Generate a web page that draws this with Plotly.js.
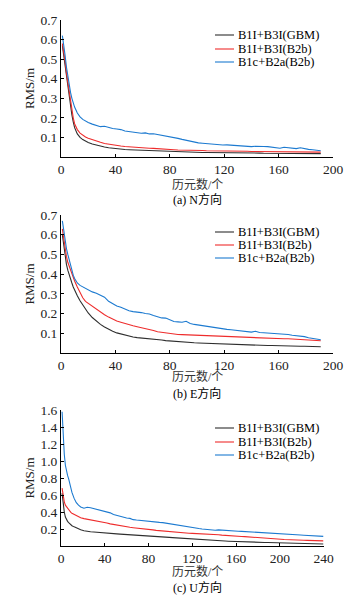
<!DOCTYPE html>
<html>
<head>
<meta charset="utf-8">
<script src="https://cdn.plot.ly/plotly-3.0.1.min.js"></script>
<style>html,body{margin:0;padding:0;background:#fff;}#chart{width:360px;height:598px;}</style>
</head>
<body>
<div id="chart"></div>
<script>
// ---------- data ----------
const seriesNames = ["B1I+B3I(GBM)", "B1I+B3I(B2b)", "B1c+B2a(B2b)"];
const seriesColors = ["#2e2e2e", "#ee2c2c", "#1c7ad0"];
const panelCaptions = ["(a) N方向", "(b) E方向", "(c) U方向"];
const xAxisTitle = "历元数/个";
const yAxisTitle = "RMS/m";

const xTicksNE = [0, 40, 80, 120, 160, 200];
const xTicksU = [0, 40, 80, 120, 160, 200, 240];
const yTicksNE = [0.1, 0.2, 0.3, 0.4, 0.5, 0.6, 0.7];
const yTicksU = [0.2, 0.4, 0.6, 0.8, 1.0, 1.2, 1.4, 1.6];

const epochsNE = [1,2,3,4,5,6,7,8,9,10,
  12,14,16,18,
  20,23,26,29,32,35,38,41,44,47,
  50,53,56,59,62,65,68,71,74,77,
  80,83,86,89,92,95,98,101,104,107,
  110,113,116,119,122,125,128,131,134,137,
  140,143,146,149,152,155,158,161,164,167,
  170,173,176,179,182,185,188,191];

const nGBM = [0.57,0.52,0.46,0.40,0.35,0.30,0.26,0.215,0.18,0.15,
  0.118,0.10,0.089,0.081,
  0.074,0.066,0.060,0.055,0.051,0.047,0.044,0.042,0.040,0.038,
  0.037,0.036,0.035,0.034,0.033,0.032,0.031,0.030,0.029,0.028,
  0.027,0.027,0.026,0.026,0.025,0.025,0.024,0.024,0.023,0.023,
  0.023,0.022,0.022,0.022,0.021,0.021,0.021,0.021,0.020,0.020,
  0.020,0.020,0.020,0.019,0.019,0.019,0.019,0.019,0.018,0.018,
  0.018,0.018,0.018,0.018,0.017,0.017,0.017,0.017];
const nB2b = [0.58,0.54,0.49,0.43,0.38,0.33,0.285,0.24,0.20,0.17,
  0.14,0.122,0.11,0.102,
  0.096,0.088,0.081,0.075,0.069,0.065,0.061,0.058,0.056,0.054,
  0.052,0.050,0.048,0.047,0.046,0.045,0.044,0.042,0.040,0.039,
  0.038,0.037,0.036,0.036,0.035,0.034,0.034,0.033,0.033,0.032,
  0.032,0.031,0.031,0.030,0.030,0.030,0.029,0.029,0.029,0.029,
  0.028,0.028,0.028,0.028,0.028,0.027,0.027,0.027,0.027,0.027,
  0.027,0.026,0.026,0.026,0.026,0.026,0.025,0.025];
const nB1c = [0.62,0.58,0.52,0.46,0.41,0.37,0.33,0.30,0.275,0.255,
  0.225,0.205,0.192,0.183,
  0.176,0.168,0.160,0.155,0.157,0.150,0.146,0.143,0.140,0.133,
  0.130,0.127,0.124,0.121,0.123,0.118,0.119,0.115,0.112,0.108,
  0.106,0.100,0.095,0.090,0.085,0.080,0.075,0.072,0.070,0.068,
  0.066,0.063,0.062,0.061,0.062,0.060,0.061,0.058,0.054,0.052,
  0.053,0.055,0.056,0.054,0.053,0.050,0.046,0.045,0.050,0.048,
  0.046,0.043,0.047,0.042,0.039,0.037,0.034,0.032];

const eGBM = [0.60,0.55,0.49,0.45,0.42,0.395,0.375,0.355,0.335,0.318,
  0.29,0.265,0.243,0.222,
  0.203,0.18,0.16,0.145,0.132,0.12,0.11,0.102,0.096,0.090,
  0.085,0.081,0.078,0.076,0.074,0.072,0.070,0.071,0.066,0.063,
  0.061,0.059,0.057,0.056,0.055,0.053,0.052,0.051,0.050,0.049,
  0.048,0.047,0.047,0.046,0.046,0.045,0.044,0.043,0.042,0.041,
  0.041,0.040,0.039,0.039,0.038,0.038,0.037,0.037,0.036,0.036,
  0.035,0.035,0.034,0.034,0.033,0.033,0.032,0.032];
const eB2b = [0.63,0.58,0.53,0.49,0.46,0.44,0.42,0.40,0.38,0.365,
  0.335,0.305,0.28,0.262,
  0.252,0.238,0.222,0.207,0.194,0.182,0.171,0.162,0.156,0.149,
  0.143,0.138,0.133,0.129,0.125,0.120,0.114,0.108,0.105,0.101,
  0.097,0.095,0.094,0.093,0.092,0.091,0.090,0.089,0.088,0.087,
  0.086,0.085,0.084,0.084,0.083,0.082,0.081,0.080,0.079,0.079,
  0.078,0.078,0.077,0.076,0.075,0.074,0.074,0.073,0.072,0.072,
  0.071,0.070,0.069,0.068,0.066,0.065,0.063,0.062];
const eB1c = [0.67,0.62,0.57,0.53,0.50,0.47,0.44,0.415,0.395,0.378,
  0.355,0.343,0.335,0.327,
  0.318,0.310,0.303,0.295,0.283,0.262,0.248,0.238,0.232,0.222,
  0.214,0.210,0.208,0.205,0.200,0.198,0.190,0.185,0.178,0.177,
  0.170,0.160,0.158,0.156,0.161,0.150,0.145,0.142,0.138,0.134,
  0.131,0.127,0.123,0.122,0.120,0.118,0.116,0.113,0.110,0.108,
  0.106,0.110,0.104,0.103,0.102,0.100,0.098,0.096,0.095,0.094,
  0.090,0.088,0.086,0.083,0.077,0.074,0.070,0.067];

const epochsU = [1,2,3,4,5,6,7,8,9,10,
  12,14,16,18,
  21,24,27,30,33,36,39,42,45,48,
  51,54,57,60,63,66,69,72,75,78,
  81,84,87,90,93,96,99,102,105,108,
  111,114,117,120,123,126,129,132,135,138,
  141,144,147,150,153,156,159,162,165,168,
  171,174,177,180,183,186,189,192,195,198,
  201,204,207,210,213,216,219,222,225,228,
  231,234,237,240];

const uGBM = [0.62,0.48,0.40,0.34,0.31,0.29,0.275,0.26,0.248,0.238,
  0.225,0.212,0.20,0.19,
  0.18,0.172,0.168,0.165,0.163,0.16,0.157,0.155,0.15,0.146,
  0.143,0.14,0.138,0.135,0.133,0.13,0.128,0.126,0.125,0.123,
  0.122,0.118,0.114,0.111,0.108,0.105,0.102,0.099,0.096,0.093,
  0.09,0.087,0.084,0.081,0.078,0.075,0.073,0.07,0.068,0.066,
  0.064,0.062,0.06,0.058,0.056,0.054,0.052,0.05,0.049,0.048,
  0.047,0.046,0.045,0.044,0.043,0.042,0.041,0.04,0.039,0.038,
  0.037,0.036,0.035,0.034,0.033,0.032,0.031,0.03,0.029,0.028,
  0.027,0.026,0.025,0.024];
const uB2b = [0.68,0.58,0.52,0.48,0.46,0.44,0.43,0.41,0.395,0.385,
  0.37,0.355,0.345,0.332,
  0.322,0.315,0.308,0.30,0.297,0.29,0.28,0.27,0.26,0.252,
  0.245,0.235,0.228,0.224,0.22,0.215,0.212,0.208,0.20,0.196,
  0.192,0.19,0.184,0.18,0.176,0.172,0.17,0.165,0.158,0.154,
  0.152,0.15,0.15,0.149,0.148,0.146,0.144,0.142,0.14,0.138,
  0.135,0.132,0.128,0.124,0.12,0.118,0.117,0.116,0.112,0.11,
  0.108,0.105,0.102,0.098,0.095,0.092,0.09,0.088,0.086,0.083,
  0.08,0.077,0.074,0.072,0.07,0.069,0.068,0.067,0.066,0.065,
  0.064,0.062,0.061,0.06];
const uB1c = [1.58,1.30,1.08,0.95,0.87,0.83,0.79,0.73,0.68,0.63,
  0.56,0.51,0.48,0.46,
  0.445,0.455,0.45,0.44,0.435,0.425,0.41,0.40,0.39,0.37,
  0.36,0.35,0.335,0.33,0.325,0.31,0.305,0.30,0.295,0.29,
  0.288,0.285,0.28,0.278,0.275,0.268,0.265,0.26,0.25,0.24,
  0.232,0.228,0.222,0.216,0.212,0.205,0.20,0.195,0.19,0.188,
  0.186,0.19,0.186,0.182,0.18,0.178,0.176,0.174,0.172,0.17,
  0.168,0.168,0.166,0.164,0.162,0.158,0.156,0.155,0.153,0.152,
  0.148,0.145,0.14,0.137,0.135,0.133,0.13,0.127,0.124,0.122,
  0.121,0.119,0.116,0.113];

// ---------- layout helpers ----------
const W = 360, H = 598;
const fx = p => p / W;
const fy = p => 1 - p / H;
const FONT = "Liberation Serif, 'Times New Roman', 'Noto Sans CJK SC', serif";
const FS = 12.5;
const TICKFS = 13.5;

const panels = [
  {x: epochsNE, ys: [nGBM, nB2b, nB1c], xr: [0, 200], yr: [0, 0.7], xt: xTicksNE, yt: yTicksNE,
   xd: [61, 333], yd: [20, 157], legRows: [35, 49, 62], xTitleY: 184.5, capY: 199},
  {x: epochsNE, ys: [eGBM, eB2b, eB1c], xr: [0, 200], yr: [0, 0.7], xt: xTicksNE, yt: yTicksNE,
   xd: [61, 333], yd: [215, 353], legRows: [232, 245, 258], xTitleY: 376.5, capY: 393},
  {x: epochsU, ys: [uGBM, uB2b, uB1c], xr: [0, 240], yr: [0, 1.6], xt: xTicksU, yt: yTicksU,
   xd: [61, 323.5], yd: [410, 546], legRows: [428, 442, 455], xTitleY: 571.5, capY: 587.5}
];

const traces = [];
const layout = {
  width: W, height: H,
  margin: {l: 0, r: 0, t: 0, b: 0},
  paper_bgcolor: "#ffffff", plot_bgcolor: "#ffffff",
  showlegend: false,
  font: {family: FONT, size: FS, color: "#000"},
  annotations: [], shapes: []
};

panels.forEach((p, i) => {
  const k = i === 0 ? "" : String(i + 1);
  p.ys.forEach((y, s) => {
    traces.push({
      type: "scatter", mode: "lines", x: p.x, y: y, name: seriesNames[s],
      xaxis: "x" + k, yaxis: "y" + k,
      line: {color: seriesColors[s], width: 1.1}, hoverinfo: "skip"
    });
  });
  layout["xaxis" + k] = {
    domain: [fx(p.xd[0]), fx(p.xd[1])], range: p.xr, anchor: "y" + k,
    tickvals: p.xt, ticks: "inside", ticklen: 3, tickcolor: "#000",
    showline: true, linecolor: "#000", linewidth: 1, showgrid: false, zeroline: false,
    tickfont: {family: FONT, size: TICKFS, color: "#222"}
  };
  layout["yaxis" + k] = {
    domain: [fy(p.yd[1]), fy(p.yd[0])], range: p.yr, anchor: "x" + k,
    tickvals: p.yt, tickformat: ".1f", ticks: "inside", ticklen: 3, tickcolor: "#000",
    showline: true, linecolor: "#000", linewidth: 1, showgrid: false, zeroline: false,
    tickfont: {family: FONT, size: TICKFS, color: "#222"},
    title: {text: yAxisTitle, font: {family: FONT, size: 13, color: "#222"}, standoff: 2}
  };
  layout.annotations.push({
    xref: "paper", yref: "paper", x: fx(197), y: fy(p.xTitleY), xanchor: "center", yanchor: "middle",
    text: xAxisTitle, showarrow: false, font: {family: FONT, size: 12, color: "#333"}
  });
  layout.annotations.push({
    xref: "paper", yref: "paper", x: fx(197), y: fy(p.capY), xanchor: "center", yanchor: "middle",
    text: panelCaptions[i], showarrow: false, font: {family: FONT, size: 12, color: "#000"}
  });
  p.legRows.forEach((ry, s) => {
    layout.shapes.push({
      type: "line", xref: "paper", yref: "paper",
      x0: fx(215), x1: fx(234), y0: fy(ry), y1: fy(ry),
      line: {color: seriesColors[s], width: 1.1}
    });
    layout.annotations.push({
      xref: "paper", yref: "paper", x: fx(236), y: fy(ry), xanchor: "left", yanchor: "middle",
      text: seriesNames[s], showarrow: false, font: {family: FONT, size: FS, color: "#000"}
    });
  });
});

Plotly.newPlot("chart", traces, layout, {staticPlot: true, displayModeBar: false});
</script>
</body>
</html>
